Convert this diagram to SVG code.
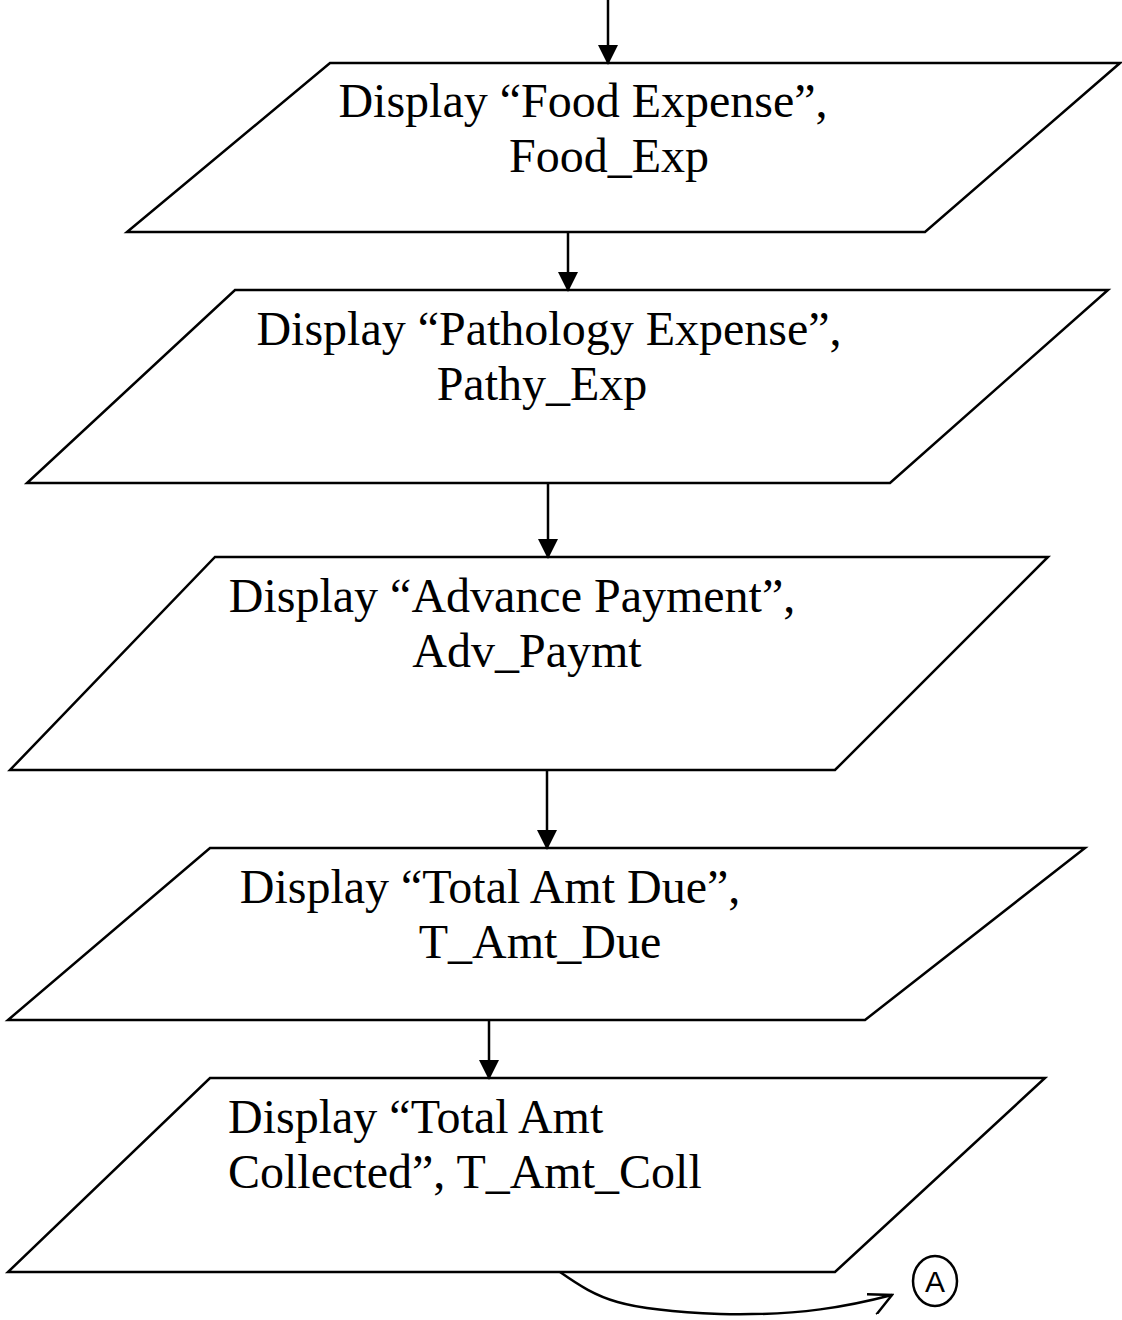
<svg xmlns="http://www.w3.org/2000/svg" width="1122" height="1320" viewBox="0 0 1122 1320">
<style>
.shape{fill:#fff;stroke:#000;stroke-width:2.5}
.t{font-family:"Liberation Serif","Times New Roman",serif;font-size:48px;fill:#000}
.c{text-anchor:middle}
.edge{fill:none;stroke:#000;stroke-width:2.5}
</style>
<defs>
<marker id="ah" markerWidth="20" markerHeight="20" viewBox="0 0 20 20" refX="19" refY="10" orient="auto" markerUnits="userSpaceOnUse">
<path d="M0,0 L20,10 L0,20 Z" fill="#000"/>
</marker>
<marker id="oh" markerWidth="30" markerHeight="30" viewBox="0 0 30 30" refX="28" refY="15" orient="auto" markerUnits="userSpaceOnUse">
<path d="M4,8 L28,15 L8,30" fill="none" stroke="#000" stroke-width="2.5"/>
</marker>
</defs>
<rect width="1122" height="1320" fill="#fff"/>
<g id="n1">
<polygon class="shape" points="330,63 1120,63 925,232 127,232"/>
<text class="t c" x="583" y="117">Display “Food Expense”,</text>
<text class="t c" x="609" y="172">Food_Exp</text>
</g>
<g id="n2">
<polygon class="shape" points="235,290 1108,290 890,483 27,483"/>
<text class="t c" x="549" y="345">Display “Pathology Expense”,</text>
<text class="t c" x="542" y="400">Pathy_Exp</text>
</g>
<g id="n3">
<polygon class="shape" points="215,557 1048,557 835,770 10,770"/>
<text class="t c" x="512" y="612">Display “Advance Payment”,</text>
<text class="t c" x="527" y="667">Adv_Paymt</text>
</g>
<g id="n4">
<polygon class="shape" points="210,848 1085,848 865,1020 8,1020"/>
<text class="t c" x="490" y="903">Display “Total Amt Due”,</text>
<text class="t c" x="540" y="958">T_Amt_Due</text>
</g>
<g id="n5">
<polygon class="shape" points="210,1078 1045,1078 835,1272 8,1272"/>
<text class="t" x="228" y="1133">Display “Total Amt</text>
<text class="t" x="228" y="1188">Collected”, T_Amt_Coll</text>
</g>
<g id="nA">
<ellipse cx="935" cy="1281" rx="22" ry="25" fill="#fff" stroke="#000" stroke-width="2.5"/>
<text x="935" y="1292" text-anchor="middle" font-family="Liberation Sans, Arial, sans-serif" font-size="30">A</text>
</g>
<g id="connectors">
<line class="edge" x1="608" y1="0" x2="608" y2="64" marker-end="url(#ah)"/>
<line class="edge" x1="568" y1="232" x2="568" y2="291" marker-end="url(#ah)"/>
<line class="edge" x1="548" y1="483" x2="548" y2="558" marker-end="url(#ah)"/>
<line class="edge" x1="547" y1="770" x2="547" y2="849" marker-end="url(#ah)"/>
<line class="edge" x1="489" y1="1020" x2="489" y2="1079" marker-end="url(#ah)"/>
<path class="edge" d="M560,1272 C600,1300 620,1310 720,1314 C800,1316 850,1306 892,1295" marker-end="url(#oh)"/>
</g>
</svg>
